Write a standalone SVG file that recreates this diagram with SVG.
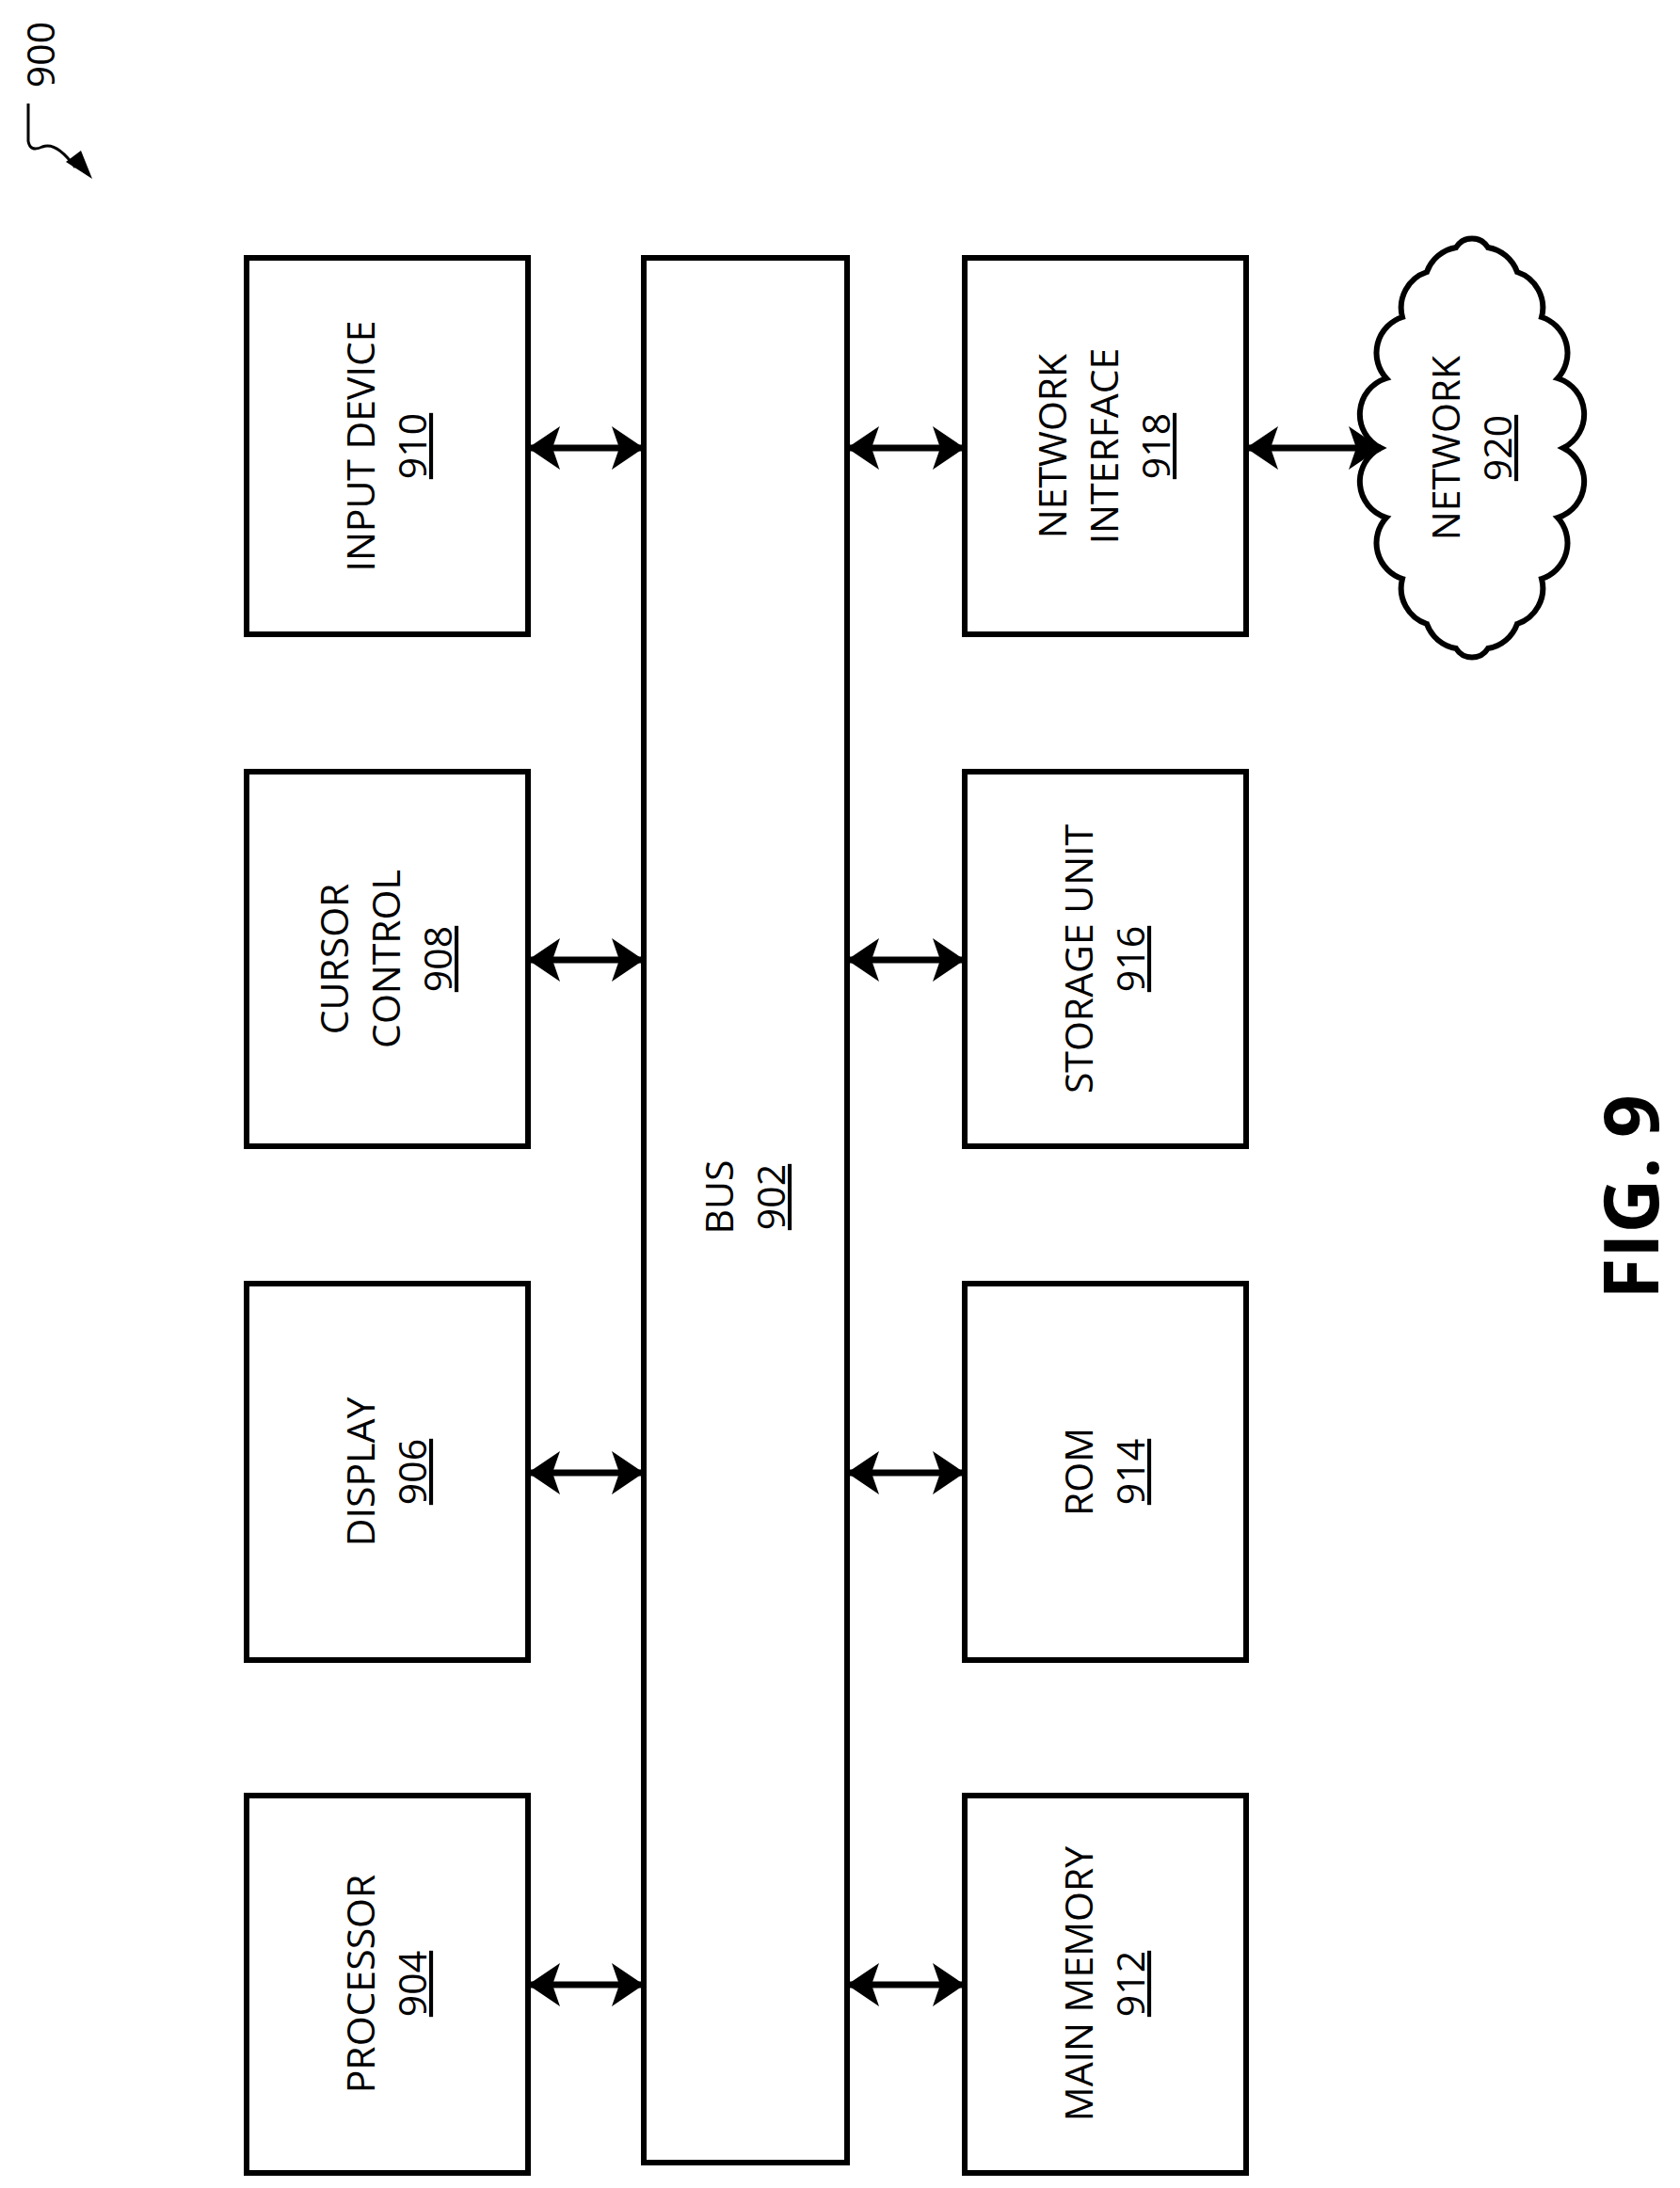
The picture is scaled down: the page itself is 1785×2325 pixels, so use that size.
<svg xmlns="http://www.w3.org/2000/svg" width="1785" height="2325" viewBox="0 0 1785 2325">
<style>
.box{fill:#fff;stroke:#000;stroke-width:6}
.t{font-family:"Open Sans","Liberation Sans",sans-serif;font-size:41px;text-anchor:middle;fill:#000}
.c{stroke:#000;stroke-width:7;fill:none;marker-start:url(#ah);marker-end:url(#ah)}
</style>
<defs>
<marker id="ah" markerUnits="userSpaceOnUse" markerWidth="36" markerHeight="50" refX="34" refY="25" orient="auto-start-reverse" viewBox="0 0 36 50">
<path d="M0,2 L34,25 L0,48 L8,25 Z" fill="#000"/>
</marker>
</defs>
<rect width="1785" height="2325" fill="#fff"/>
<g id="label900">
<text class="t" transform="translate(58,58) rotate(-90)">900</text>
<path d="M30,110 L30,150 Q32,162 45,156 Q60,150 80,178" fill="none" stroke="#000" stroke-width="3"/>
<path d="M70,172 L98,190 L86,160 Z" fill="#000"/>
</g>
<g id="bus902"><rect class="box" x="684" y="274" width="216" height="2024"/>
<text class="t" transform="translate(792,1272) rotate(-90)"><tspan x="0" y="-13">BUS</tspan><tspan x="0" y="42" text-decoration="underline">902</tspan></text></g>
<g id="input910"><rect class="box" x="262" y="274" width="299" height="400"/>
<text class="t" transform="translate(411,474) rotate(-90)"><tspan x="0" y="-13">INPUT DEVICE</tspan><tspan x="0" y="42" text-decoration="underline">910</tspan></text></g>
<g id="cursor908"><rect class="box" x="262" y="820" width="299" height="398"/>
<text class="t" transform="translate(411,1019) rotate(-90)"><tspan x="0" y="-41">CURSOR</tspan><tspan x="0" y="14">CONTROL</tspan><tspan x="0" y="69" text-decoration="underline">908</tspan></text></g>
<g id="display906"><rect class="box" x="262" y="1364" width="299" height="400"/>
<text class="t" transform="translate(411,1564) rotate(-90)"><tspan x="0" y="-13">DISPLAY</tspan><tspan x="0" y="42" text-decoration="underline">906</tspan></text></g>
<g id="processor904"><rect class="box" x="262" y="1908" width="299" height="401"/>
<text class="t" transform="translate(411,2108) rotate(-90)"><tspan x="0" y="-13">PROCESSOR</tspan><tspan x="0" y="42" text-decoration="underline">904</tspan></text></g>
<g id="netif918"><rect class="box" x="1025" y="274" width="299" height="400"/>
<text class="t" transform="translate(1174,474) rotate(-90)"><tspan x="0" y="-41">NETWORK</tspan><tspan x="0" y="14">INTERFACE</tspan><tspan x="0" y="69" text-decoration="underline">918</tspan></text></g>
<g id="storage916"><rect class="box" x="1025" y="820" width="299" height="398"/>
<text class="t" transform="translate(1174,1019) rotate(-90)"><tspan x="0" y="-13">STORAGE UNIT</tspan><tspan x="0" y="42" text-decoration="underline">916</tspan></text></g>
<g id="rom914"><rect class="box" x="1025" y="1364" width="299" height="400"/>
<text class="t" transform="translate(1174,1564) rotate(-90)"><tspan x="0" y="-13">ROM</tspan><tspan x="0" y="42" text-decoration="underline">914</tspan></text></g>
<g id="mainmem912"><rect class="box" x="1025" y="1908" width="299" height="401"/>
<text class="t" transform="translate(1174,2108) rotate(-90)"><tspan x="0" y="-13">MAIN MEMORY</tspan><tspan x="0" y="42" text-decoration="underline">912</tspan></text></g>
<g id="network920">
<path class="box" d="M1661,476 A40,40 0 0 1 1655,550 A40,40 0 0 1 1638,615 A40,40 0 0 1 1612,663 A40,40 0 0 1 1581,689 A20,20 0 0 1 1547,689 A40,40 0 0 1 1516,663 A40,40 0 0 1 1490,615 A40,40 0 0 1 1473,550 A40,40 0 0 1 1467,476 A40,40 0 0 1 1473,402 A40,40 0 0 1 1490,337 A40,40 0 0 1 1516,289 A40,40 0 0 1 1547,263 A20,20 0 0 1 1581,263 A40,40 0 0 1 1612,289 A40,40 0 0 1 1638,337 A40,40 0 0 1 1655,402 A40,40 0 0 1 1661,476 Z"/>
<text class="t" transform="translate(1564,476) rotate(-90)"><tspan x="0" y="-13">NETWORK</tspan><tspan x="0" y="42" text-decoration="underline">920</tspan></text>
</g>
<g id="connectors">
<line class="c" x1="561" y1="476" x2="684" y2="476"/>
<line class="c" x1="561" y1="1020" x2="684" y2="1020"/>
<line class="c" x1="561" y1="1565" x2="684" y2="1565"/>
<line class="c" x1="561" y1="2109" x2="684" y2="2109"/>
<line class="c" x1="900" y1="476" x2="1025" y2="476"/>
<line class="c" x1="900" y1="1020" x2="1025" y2="1020"/>
<line class="c" x1="900" y1="1565" x2="1025" y2="1565"/>
<line class="c" x1="900" y1="2109" x2="1025" y2="2109"/>
<line class="c" x1="1324" y1="476" x2="1467" y2="476"/>
</g>
<text transform="translate(1762,1272) rotate(-90)" style="font-family:'Open Sans','Liberation Sans',sans-serif;font-weight:bold;font-size:80px;text-anchor:middle">FIG. 9</text>
</svg>
